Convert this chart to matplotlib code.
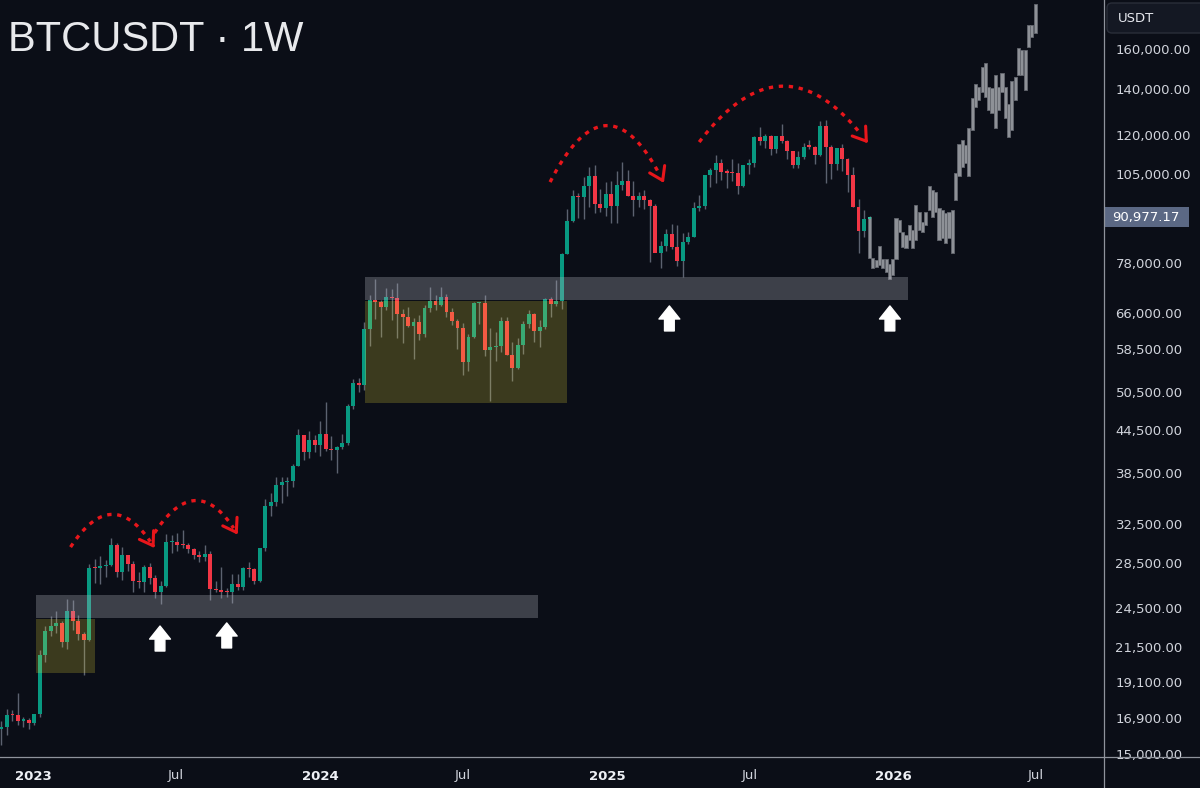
import numpy as np
import matplotlib
matplotlib.use("Agg")
import matplotlib.pyplot as plt
import matplotlib.dates as mdates
import matplotlib.transforms as mtransforms
from matplotlib.patches import Rectangle, FancyBboxPatch
from matplotlib.lines import Line2D
from matplotlib.ticker import FixedLocator, FixedFormatter, NullLocator
from datetime import datetime, timedelta

# weekly candles, BTCUSDT, week of 2022-11-21 .. week of 2025-12-01
first_week = datetime(2022, 11, 21)
first_open = 16290
closes = [
    16430, 17110, 17100, 16780, 16840, 16620,
    17130, 20880, 22700, 23030, 23310, 21860, 24280, 23480, 22430, 21990, 28040, 27990, 28170,
    28330, 30300, 27590, 29230, 28430, 26770, 26740, 28070, 27120, 25840, 26340, 30530, 30590,
    30280, 30230, 29860, 29300, 29050, 29400, 26100, 26010, 25870, 25840, 26530, 26300, 27970,
    27920, 26850, 29990, 34500, 35010, 37060, 37360, 37450, 39450, 43780, 41380, 42990, 42280,
    43940, 41730, 41580, 42030, 42580, 48300, 52140, 51730, 62430, 68960, 68390, 67210, 69650,
    69360, 65660, 64940, 63110, 63900, 61480, 66930, 68520, 67770, 69650, 66220, 64250, 62680,
    55860, 60800, 68160, 68250, 58160, 58710, 59010, 64220, 57300, 54870, 59190, 63580, 65600,
    62080, 62850, 69030, 68000, 68740, 80400, 89850, 97700, 97270, 101110, 104460, 95190, 93720, 98360,
    94520, 101330, 102620, 97700, 96460, 97510, 96260, 94270, 80710, 82580, 86080, 82390, 78370,
    83760, 85180, 93750, 94280, 104620, 106450, 109000, 105700, 105600, 105500, 100950, 108350, 109200,
    119090, 117300, 119450, 114210, 119300, 117400, 113490, 108270, 111150, 115270, 115230, 112150, 123510,
    115100, 108640, 114570, 110540, 104700, 94200, 86830, 90360, 90977.17,
]
highs = [
    16770, 17420, 17400, 18390, 16960, 16950,
    17180, 21260, 23080, 23820, 24260, 23440, 25250, 25130, 23880, 22600, 28390, 28870, 29180,
    28780, 30990, 30490, 30040, 29300, 28630, 27650, 28260, 28450, 27400, 26800, 31430, 31280,
    31500, 31800, 30440, 29990, 29700, 30240, 29680, 26830, 28140, 26200, 27480, 27480, 28070,
    28580, 28000, 30000, 35280, 35980, 37980, 37980, 38000, 39700, 44700, 43800, 44400, 43800,
    45880, 48970, 43580, 42250, 43880, 48590, 52820, 52990, 64000, 70140, 73780, 68950, 71770,
    71340, 72800, 66870, 67230, 64740, 65500, 67700, 71980, 70000, 71990, 70200, 66990, 64500,
    63800, 61400, 68370, 68480, 70080, 62750, 61800, 65000, 64980, 59800, 60650, 64130, 66500,
    66000, 64480, 69400, 69500, 73620, 80500, 93480, 99590, 98690, 104000, 107790, 108350, 99960, 102480,
    102720, 106000, 109590, 106460, 102500, 98830, 99500, 96500, 95000, 84000, 87470, 88770, 88500,
    86100, 86450, 95760, 97890, 104800, 107100, 111980, 110720, 106800, 110500, 108950, 108500, 110530,
    119490, 123220, 120250, 119800, 119500, 124470, 117630, 113640, 113400, 116700, 117900, 115400, 125700,
    126200, 115970, 114800, 116400, 110800, 107500, 96600, 93100, 91300,
]
lows = [
    15480, 16000, 16750, 16530, 16400, 16330,
    16540, 17000, 20400, 22300, 22500, 21450, 21350, 22760, 21970, 19550, 21900, 26600, 26520,
    27200, 28170, 27130, 26940, 27680, 25810, 26150, 25870, 26500, 25350, 24800, 26260, 29500,
    29700, 29950, 29500, 28860, 28580, 28700, 25170, 25800, 25340, 25370, 24900, 26000, 25990,
    27160, 26530, 26700, 29660, 33390, 34520, 34800, 35630, 36700, 39400, 40220, 40500, 41300,
    40750, 41500, 40280, 38550, 41800, 42260, 47710, 50520, 50900, 59000, 64530, 60760, 66600,
    64490, 60660, 59600, 62800, 56550, 60190, 60750, 66150, 66600, 67500, 65070, 63380, 58400,
    53500, 54260, 60630, 63500, 57120, 49000, 56080, 57800, 57200, 52550, 54580, 57490, 62700,
    59830, 58900, 62450, 65060, 67480, 66830, 80230, 89380, 90790, 90500, 94150, 92230, 92500, 91300,
    89260, 89250, 99500, 97780, 91230, 94090, 93400, 78260, 81400, 76600, 81130, 81600, 77150,
    74500, 83100, 85150, 92900, 93380, 100720, 102000, 103100, 100370, 102660, 98200, 100500, 105100,
    107450, 115740, 114720, 112000, 112650, 116800, 110700, 107300, 107250, 110600, 114400, 108650, 111550,
    102000, 103530, 106600, 106300, 98900, 94000, 80600, 85200, 90200,
]
last_price = 90977.17

# projected path (grey bars), 2025-12-01 .. 2026-06-30
proj_start = datetime(2025, 12, 1)
proj_end = datetime(2026, 6, 30)
proj_high = [
    90977, 79300, 78800, 82500, 79000, 79000, 77600, 79000, 90700, 90100, 86500, 85600, 88600,
    87100, 94700, 92500, 89500, 92500, 101000, 99600, 98900, 93700, 93100, 92100, 92500, 93100,
    105400, 116400, 117800, 115800, 122600, 135700, 142100, 140800, 150600, 152700, 140800, 140300,
    146700, 140800, 147700, 140800, 133000, 143600, 145600, 160400, 159400, 159400, 173400, 173400, 186000,
]
proj_low = [
    79300, 76700, 77000, 77500, 76700, 75700, 74000, 75000, 79000, 86500, 82200, 81900, 84200,
    81900, 84200, 87100, 86500, 88600, 93100, 91000, 92500, 84200, 84800, 83300, 84800, 80600,
    96300, 104400, 107600, 109100, 104400, 121800, 131800, 134800, 138500, 136100, 130300, 129000,
    122600, 130300, 138500, 126900, 119000, 121800, 134800, 146700, 146700, 139400, 161000, 166500, 168800,
]

# zones
zone_start = ["2023-01-04", "2023-01-04", "2024-02-27", "2024-02-27"]
zone_end = ["2023-03-20", "2024-10-05", "2024-11-10", "2026-01-19"]
zone_low = [19690, 23680, 48730, 68870]
zone_high = [23600, 25580, 68620, 74400]
zone_kind = ["range", "support", "range", "support"]

# red dotted arcs
arc_start = ["2023-02-17", "2023-06-04", "2024-10-20", "2025-04-28"]
arc_start_price = [30040, 31500, 102300, 117000]
arc_end = ["2023-06-04", "2023-09-18", "2025-03-14", "2025-11-29"]
arc_end_price = [29950, 31320, 102000, 116500]
arc_bend = [-0.79, -0.8, -1.0, -0.67]

# white up arrows (tip)
arrow_dates = ["2023-06-11", "2023-09-04", "2025-03-21", "2025-12-27"]
arrow_tip = [23050, 23290, 67500, 67500]

yticks = [15000, 16900, 19100, 21500, 24500, 28500, 32500, 38500, 44500, 50500,
          58500, 66000, 78000, 105000, 120000, 140000, 160000]
xtick_dates = ["2023-01-01", "2023-07-01", "2024-01-01", "2024-07-01",
               "2025-01-01", "2025-07-01", "2026-01-01", "2026-07-01"]
xtick_labels = ["2023", "Jul", "2024", "Jul", "2025", "Jul", "2026", "Jul"]

BG = "#0b0e17"
UP = "#089981"
DOWN = "#f23645"
WICK = "#5c6270"
TXT = "#d1d4dc"
ARC = "#e8161b"


def dnum(s):
    return mdates.date2num(datetime.strptime(s, "%Y-%m-%d"))


W, H = 1200, 788
fig = plt.figure(figsize=(W / 100, H / 100), dpi=100, facecolor=BG)
ax = fig.add_axes([0, 1 - 757 / H, 1103 / W, 757 / H])
ax.set_facecolor(BG)
ax.set_yscale("log")
base = mdates.date2num(datetime(2023, 1, 1))
ax.set_xlim(base - 42.9, base + 1362.5)
ax.set_ylim(14850, 188500)

# candles
opens = [first_open] + closes[:-1]
x = mdates.date2num([first_week + timedelta(weeks=i) for i in range(len(closes))])
o = np.array(opens, float)
c = np.array(closes, float)
hi = np.array(highs, float)
lo = np.array(lows, float)
bot = np.minimum(o, c)
top = np.maximum(np.maximum(o, c), bot * 1.004)
cols = [UP if cc >= oo else DOWN for oo, cc in zip(o, c)]
ax.vlines(x, lo, hi, color=WICK, lw=1, zorder=2)
ax.bar(x, top - bot, bottom=bot, width=5.0, color=cols, lw=0, zorder=3)

# projection bars
px = np.linspace(mdates.date2num(proj_start), mdates.date2num(proj_end), len(proj_high))
ph = np.array(proj_high, float)
pl = np.array(proj_low, float)
ax.bar(px, ph - pl, bottom=pl, width=4.0, color="#8e9197", edgecolor="#65686f",
       lw=0.6, zorder=2.5)
# current candle on top of the projection start
ax.bar(x[-1:], top[-1:] - bot[-1:], bottom=bot[-1:], width=5.0, color="#2fbf9f", lw=0, zorder=3.5)

# zones (drawn over candles, translucent)
for s, e, l, h, k in zip(zone_start, zone_end, zone_low, zone_high, zone_kind):
    fc = (1.0, 0.92, 0.23, 0.2) if k == "range" else (0.70, 0.71, 0.75, 0.3)
    ax.add_patch(Rectangle((dnum(s), l), dnum(e) - dnum(s), h - l, fc=fc, ec="none", zorder=4))

# arcs, computed in display space as quadratic bezier curves
inv = ax.transData.inverted()
for s, sp, e, ep, r in zip(arc_start, arc_start_price, arc_end, arc_end_price, arc_bend):
    (x0, y0), (x1, y1) = ax.transData.transform([(dnum(s), sp), (dnum(e), ep)])
    dx, dy = x1 - x0, y1 - y0
    cx, cy = (x0 + x1) / 2 + r * dy, (y0 + y1) / 2 - r * dx
    t = np.linspace(0, 1, 80)[:, None]
    pts = (1 - t) ** 2 * np.array([x0, y0]) + 2 * (1 - t) * t * np.array([cx, cy]) + t ** 2 * np.array([x1, y1])
    dpts = inv.transform(pts[:-4])
    ax.plot(dpts[:, 0], dpts[:, 1], color=ARC, lw=2.4, ls=(0, (1.3, 1.7)),
            solid_capstyle="butt", dash_capstyle="butt", zorder=5)
    tx, ty = x1 - cx, y1 - cy
    n = np.hypot(tx, ty)
    back = inv.transform([(x1 - 4 * tx / n, y1 - 4 * ty / n)])[0]
    ax.annotate("", xy=(dnum(e), ep), xytext=(back[0], back[1]),
                arrowprops=dict(arrowstyle="->,head_length=0.45,head_width=0.3", color=ARC,
                                lw=2.2, mutation_scale=20, shrinkA=0, shrinkB=0), zorder=5)

# white up arrows
for d, p in zip(arrow_dates, arrow_tip):
    ax.annotate("", xy=(dnum(d), p), xytext=(0, -18), textcoords="offset points",
                arrowprops=dict(arrowstyle="simple,head_length=9.4,head_width=15,tail_width=7",
                                mutation_scale=1, color="white", shrinkA=0, shrinkB=0), zorder=6)

# axes styling
for sp in ax.spines.values():
    sp.set_visible(False)
ax.yaxis.tick_right()
ax.yaxis.set_major_locator(FixedLocator(yticks))
ax.yaxis.set_major_formatter(FixedFormatter([f"{v:,.2f}" for v in yticks]))
ax.yaxis.set_minor_locator(NullLocator())
ax.tick_params(axis="y", length=0, pad=9, labelsize=9.5, labelcolor=TXT)
ax.xaxis.set_major_locator(FixedLocator([dnum(d) for d in xtick_dates]))
ax.xaxis.set_major_formatter(FixedFormatter(xtick_labels))
ax.xaxis.set_minor_locator(NullLocator())
ax.tick_params(axis="x", length=0, pad=9, labelsize=9.5, labelcolor=TXT)
for lab in ax.get_xticklabels():
    if lab.get_text().isdigit():
        lab.set_fontweight("bold")
        lab.set_color("#eef0f5")

# last price label on the price scale
trans = mtransforms.blended_transform_factory(ax.transAxes, ax.transData)
ylo, yhi = ax.get_ylim()
f = (yhi / ylo) ** (10 / 757)
ax.add_patch(Rectangle((1.0005, last_price / f), 85 / 1103, last_price * f - last_price / f,
                       transform=trans, clip_on=False, fc="#5b6884", ec="none", zorder=7))
ax.text(1 + 9 / 1103, last_price, f"{last_price:,.2f}", transform=trans, ha="left", va="center",
        fontsize=9.5, color="white", zorder=8, clip_on=False)

# separators
fig.add_artist(Line2D([1103.5 / W, 1103.5 / W], [0, 1], color="#8f939c", lw=0.9))
fig.add_artist(Line2D([0, 1], [1 - 757 / H, 1 - 757 / H], color="#8f939c", lw=0.9))

# currency box
fig.patches.append(FancyBboxPatch((11.07, (H - 33) / 100), 1.1, 0.30,
                                  boxstyle="round,pad=0,rounding_size=0.05",
                                  transform=fig.dpi_scale_trans, fc="#141823", ec="#2a2e39", lw=1))
fig.text(1118 / W, 1 - 18 / H, "USDT", ha="left", va="center", fontsize=9.5, color="#e6e8ee")

# title
fig.text(8 / W, 1 - 51 / H, "BTCUSDT · 1W", ha="left", va="baseline", fontsize=30,
         family=["Liberation Sans", "DejaVu Sans"], color="#e8e9ec")

fig.savefig("out.png", dpi=100, facecolor=BG)
